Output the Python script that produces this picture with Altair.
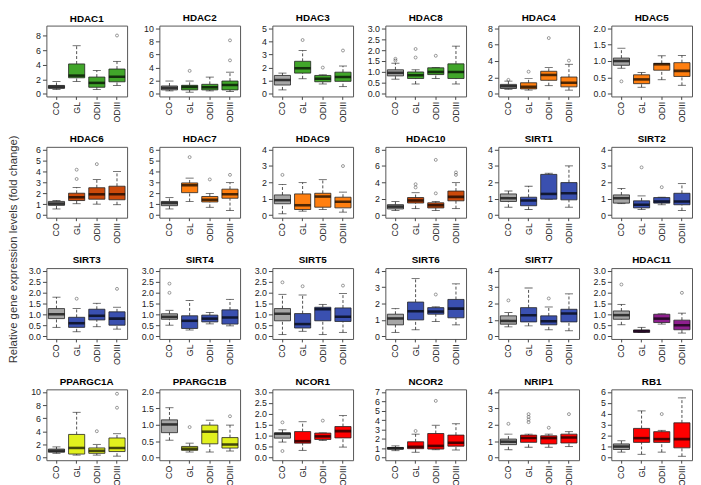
import altair as alt
import pandas as pd

GENES = ["HDAC1", "HDAC2", "HDAC3", "HDAC8", "HDAC4", "HDAC5",
         "HDAC6", "HDAC7", "HDAC9", "HDAC10", "SIRT1", "SIRT2",
         "SIRT3", "SIRT4", "SIRT5", "SIRT6", "SIRT7", "HDAC11",
         "PPARGC1A", "PPARGC1B", "NCOR1", "NCOR2", "NRIP1", "RB1"]
GROUPS = ["CO", "GL", "ODII", "ODIII"]

GREEN, ORANGE, DKORANGE = "#41A62A", "#FF7F10", "#CC4A0A"
BLUE, PURPLE, YELLOW, RED = "#3A50B0", "#8E1F8E", "#E1F01E", "#FF0000"
CO_COLOR = "#A6A6A6"
GENE_COLOR = [GREEN, GREEN, GREEN, GREEN, ORANGE, ORANGE,
              DKORANGE, ORANGE, ORANGE, DKORANGE, BLUE, BLUE,
              BLUE, BLUE, BLUE, BLUE, BLUE, PURPLE,
              YELLOW, YELLOW, RED, RED, RED, RED]

# y-axis upper limit and tick step per panel
YMAX = [9, 10, 5, 3, 8, 2,
        6, 6, 4, 8, 4, 4,
        3, 3, 3, 4, 4, 3,
        10, 2, 3, 7, 4, 6]
YSTEP = [2, 2, 1, 0.5, 2, 0.5,
         1, 1, 1, 2, 1, 1,
         0.5, 0.5, 0.5, 1, 1, 0.5,
         2, 0.5, 0.5, 1, 1, 1]

# box statistics per gene, order CO, GL, ODII, ODIII
LO = [[0.6, 1.7, 0.6, 1.15], [0.45, 0.25, 0.45, 0.35], [0.3, 1.15, 0.75, 0.55],
      [0.67, 0.45, 0.7, 0.45], [0.55, 0.45, 1.0, 0.45], [0.78, 0.2, 0.43, 0.26],
      [0.56, 1.04, 1.0, 0.95], [0.56, 1.25, 0.71, 0.42], [0.08, 0.24, 0.34, 0.18],
      [0.55, 0.79, 0.55, 0.79], [0.48, 0.34, 0.97, 0.48], [0.7, 0.34, 0.63, 0.28],
      [0.41, 0.21, 0.44, 0.33], [0.51, 0.29, 0.57, 0.48], [0.08, 0.23, 0.08, 0.18],
      [0.24, 0.4, 0.9, 0.7], [0.58, 0.64, 0.4, 0.34], [0.53, 0.18, 0.56, 0.15],
      [0.65, 0.38, 0.38, 0.22], [0.53, 0.17, 0.17, 0.2], [0.71, 0.33, 0.78, 0.48],
      [0.74, 0.57, 0.84, 0.81], [0.48, 0.63, 0.63, 0.67], [0.5, 0.3, 0.5, 0.12]]
Q1 = [[0.75, 2.2, 0.9, 1.65], [0.6, 0.6, 0.6, 0.6], [0.67, 1.58, 0.92, 0.95],
      [0.82, 0.7, 0.88, 0.7], [0.65, 0.6, 1.65, 0.85], [0.87, 0.31, 0.72, 0.53],
      [0.89, 1.33, 1.45, 1.4], [0.86, 2.05, 1.2, 1.54], [0.69, 0.34, 0.48, 0.44],
      [0.75, 1.47, 0.87, 1.74], [0.83, 0.57, 0.97, 0.93], [0.73, 0.44, 0.73, 0.63],
      [0.81, 0.41, 0.75, 0.51], [0.78, 0.36, 0.66, 0.56], [0.71, 0.38, 0.71, 0.68],
      [0.7, 1.0, 1.35, 1.13], [0.74, 0.88, 0.7, 0.88], [0.78, 0.18, 0.63, 0.3],
      [0.82, 0.54, 0.65, 0.92], [0.76, 0.22, 0.42, 0.29], [0.89, 0.66, 0.83, 0.9],
      [0.91, 0.95, 0.91, 1.22], [0.79, 0.93, 0.83, 0.89], [0.74, 1.39, 1.39, 0.89]]
MED = [[0.95, 2.5, 1.5, 2.35], [0.9, 1.05, 1.0, 1.35], [1.05, 1.95, 1.15, 1.28],
       [0.96, 0.85, 1.0, 1.0], [0.93, 0.85, 2.3, 1.35], [1.0, 0.44, 0.9, 0.7],
       [1.05, 1.63, 1.9, 1.9], [1.1, 2.73, 1.4, 1.9], [0.91, 0.6, 1.13, 0.81],
       [1.03, 1.78, 1.2, 2.22], [1.03, 0.89, 1.29, 1.33], [1.03, 0.63, 0.83, 0.83],
       [1.01, 0.6, 0.94, 0.81], [0.89, 0.71, 0.81, 0.86], [1.03, 0.56, 1.24, 0.9],
       [1.09, 1.53, 1.51, 1.69], [0.94, 1.29, 0.92, 1.39], [0.97, 0.24, 0.81, 0.51],
       [1.03, 1.47, 1.03, 1.47], [1.01, 0.27, 0.79, 0.4], [1.09, 0.75, 0.97, 1.21],
       [0.98, 1.15, 1.25, 1.59], [0.97, 1.19, 1.19, 1.23], [1.01, 1.78, 1.69, 1.69]]
Q3 = [[1.15, 4.1, 2.3, 3.4], [1.2, 1.3, 1.45, 1.95], [1.4, 2.48, 1.4, 1.65],
      [1.1, 1.0, 1.19, 1.37], [1.15, 1.35, 2.75, 2.05], [1.09, 0.58, 0.93, 0.95],
      [1.25, 2.0, 2.5, 2.64], [1.25, 2.94, 1.7, 2.37], [1.23, 1.29, 1.33, 1.09],
      [1.27, 2.14, 1.5, 2.93], [1.29, 1.09, 2.48, 1.98], [1.23, 0.87, 1.07, 1.33],
      [1.27, 0.87, 1.24, 1.12], [1.03, 0.94, 0.97, 1.21], [1.27, 1.04, 1.33, 1.3],
      [1.35, 2.09, 1.75, 2.25], [1.25, 1.75, 1.25, 1.65], [1.16, 0.29, 1.01, 0.74],
      [1.3, 3.53, 1.47, 2.99], [1.15, 0.34, 0.99, 0.61], [1.13, 1.19, 1.12, 1.42],
      [1.08, 1.69, 2.57, 2.4], [1.13, 1.37, 1.33, 1.43], [1.25, 2.67, 2.37, 3.18]]
HI = [[1.7, 6.6, 3.2, 4.45], [1.95, 1.95, 2.55, 3.3], [1.58, 3.3, 1.45, 2.12],
      [1.4, 1.1, 1.2, 2.18], [1.55, 1.85, 3.2, 3.6], [1.39, 0.65, 1.16, 1.17],
      [1.33, 2.52, 3.26, 3.98], [1.6, 3.38, 1.98, 2.97], [1.86, 1.98, 2.16, 1.4],
      [1.66, 2.73, 1.66, 3.96], [1.47, 1.76, 2.55, 3.0], [1.62, 1.17, 1.09, 1.92],
      [1.79, 1.27, 1.51, 1.33], [1.19, 1.64, 1.09, 1.69], [1.92, 1.89, 1.46, 1.96],
      [1.69, 3.52, 1.8, 3.2], [1.45, 2.95, 1.79, 2.59], [1.46, 0.41, 1.03, 1.06],
      [1.63, 6.9, 2.01, 3.64], [1.52, 0.44, 1.14, 0.99], [1.27, 1.64, 1.13, 1.92],
      [1.25, 2.5, 3.45, 3.61], [1.43, 1.43, 1.43, 1.58], [1.54, 4.27, 2.49, 5.46]]
OUTLIERS = [
    [[], [], [], [8.0]], [[], [3.5], [], [5.1, 8.15]], [[], [4.1], [2.0], [3.3]],
    [[1.52, 1.6], [1.66, 2.05], [1.74], []], [[1.7], [2.7], [6.8], [4.05]], [[0.38], [], [], []],
    [[], [3.3, 4.15], [4.66], []], [[], [5.3], [3.26], [3.68]], [[2.45], [], [], [2.99]],
    [[], [3.37, 3.76], [2.65, 6.73], [4.9, 5.2]], [[], [], [], []], [[], [2.91], [1.7], []],
    [[], [1.72], [], [2.17]], [[1.99, 2.41], [], [], []], [[2.47], [2.29], [], [2.32]],
    [[], [], [2.55], []], [[2.19], [], [2.31], []], [[2.37], [], [], [1.99]],
    [[], [], [4.02], [7.6, 9.73]], [[], [0.93], [], [1.26]], [[0.3, 1.61], [], [1.69], []],
    [[], [2.84], [6.05], []], [[2.06], [2.16, 2.32, 2.48, 2.65], [1.82], [2.65]], [[], [], [3.98], []],
]

W, H = 82, 72
BAND = 0.8 * W / 4
FONT = "Liberation Sans"
INK = "#222222"


def panel(i):
    box_df = pd.DataFrame({
        "group": GROUPS, "lo": LO[i], "q1": Q1[i], "med": MED[i],
        "q3": Q3[i], "hi": HI[i],
        "fill": [CO_COLOR] + [GENE_COLOR[i]] * 3,
    })
    out_df = pd.DataFrame(
        [{"group": g, "v": v} for g, vals in zip(GROUPS, OUTLIERS[i]) for v in vals],
        columns=["group", "v"])
    ymax, step = YMAX[i], YSTEP[i]
    n = int(ymax / step + 1e-9)
    ticks = [round(k * step, 2) for k in range(n + 1)]
    fmt = ".1f" if step < 1 else "d"

    xenc = alt.X("group:N",
                 scale=alt.Scale(domain=GROUPS, paddingInner=0.2, paddingOuter=0.1),
                 axis=alt.Axis(title=None, labelAngle=270, labelFontSize=9, labelFont=FONT,
                               labelColor=INK, tickSize=3, tickColor="#444", domain=False,
                               labelPadding=2))
    yscale = alt.Scale(domain=[-0.04 * ymax, 1.04 * ymax], nice=False, zero=False)
    yaxis = alt.Axis(title=None, values=ticks, format=fmt, labelFontSize=9, labelFont=FONT,
                     labelColor=INK, tickSize=4, tickColor="#444", domain=False, grid=False,
                     labelPadding=2)

    def Y(f):
        return alt.Y(f"{f}:Q", scale=yscale, axis=yaxis)

    base = alt.Chart(box_df)
    upper = base.mark_rule(strokeDash=[3, 2], color=INK, strokeWidth=0.8).encode(
        x=xenc, y=Y("q3"), y2="hi:Q")
    lower = base.mark_rule(strokeDash=[3, 2], color=INK, strokeWidth=0.8).encode(
        x=xenc, y=Y("lo"), y2="q1:Q")
    cap_hi = base.mark_tick(orient="horizontal", size=BAND / 2, thickness=0.9, color=INK).encode(
        x=xenc, y=Y("hi"))
    cap_lo = base.mark_tick(orient="horizontal", size=BAND / 2, thickness=0.9, color=INK).encode(
        x=xenc, y=Y("lo"))
    box = base.mark_bar(stroke=INK, strokeWidth=0.8).encode(
        x=xenc, y=Y("q1"), y2="q3:Q", color=alt.Color("fill:N", scale=None))
    med = base.mark_tick(orient="horizontal", size=BAND, thickness=2.6, color="black").encode(
        x=xenc, y=Y("med"))
    pts = alt.Chart(out_df).mark_point(shape="circle", size=9, filled=False, color="#333",
                                       strokeWidth=0.7).encode(x=xenc, y=Y("v"))
    return alt.layer(upper, lower, cap_hi, cap_lo, box, med, pts).properties(
        width=W, height=H,
        title=alt.TitleParams(GENES[i], fontSize=10, fontWeight="bold", font=FONT,
                              color="black", offset=1.5))


panels = [panel(i) for i in range(len(GENES))]

chart = alt.concat(
    *panels, columns=6, spacing={"row": 51.2, "column": 32.8}, bounds="flush"
).properties(
    title=alt.TitleParams("Relative gene expression levels (fold change)", orient="left",
                          anchor="middle", fontSize=11.5, fontWeight="normal", font=FONT,
                          color="#333", offset=8),
    padding={"left": 0, "top": 0, "right": 0, "bottom": 0},
).configure_view(stroke="#555", strokeWidth=1)

chart.save("out.html", embed_options={"renderer": "svg", "actions": False})
